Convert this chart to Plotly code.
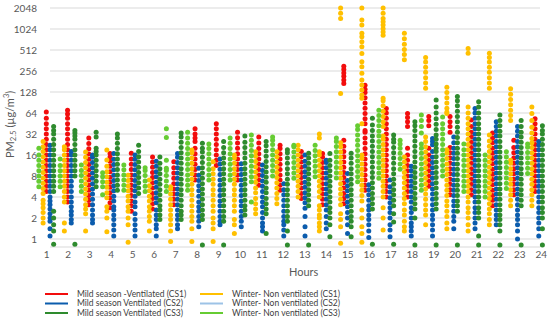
import math
import plotly.graph_objects as go

hours = list(range(1, 25))
hour_labels = [str(h) for h in hours]
y_tick_values = [1, 2, 4, 8, 16, 32, 64, 128, 256, 512, 1024, 2048]

series_names = [
    "Mild season -Ventilated (CS1)",
    "Mild season Ventilated (CS2)",
    "Mild season Ventilated (CS3)",
    "Winter- Non ventilated (CS1)",
    "Winter- Non ventilated (CS2)",
    "Winter- Non ventilated (CS3)",
]

# PM2.5 readings (ug/m3) per hour
mild_cs1 = [
    [4.8, 5.7, 6.7, 8, 9.5, 11.3, 13.5, 16, 19, 22.6, 27, 32, 38, 45, 54, 66],
    [3.4, 4, 4.8, 5.7, 6.7, 8, 9.5, 11.3, 13.5, 16, 19, 22.6, 27, 32, 38, 45, 54, 62, 70],
    [3.1, 3.6, 4.2, 5, 5.9, 7, 8.3, 9.8, 11.7, 13.9, 16.5, 19.6, 23.3, 28],
    [2.8, 3.3, 3.9, 4.6, 5.5, 6.5, 7.7, 9.2, 11, 13, 15, 16.8],
    [2.5, 3, 3.5, 4.2, 5, 5.9, 7, 8.3, 9.9, 11.8, 14, 17],
    [2.7, 3.2, 3.8, 4.5, 5.4, 6.4, 7.6, 9, 10.7, 12.7, 15],
    [3.1, 3.7, 4.4, 5.2, 6.2, 7.4, 8.8, 10.5, 12.8],
    [7, 8.3, 9.9, 11.8, 14, 16.7, 20, 25, 28, 32, 38],
    [11.3, 13.5, 16, 19, 22.6, 27, 32, 38, 45],
    [7, 8.3, 9.9, 11.8, 14, 16.7, 20, 23.8, 28.3, 34],
    [5.9, 7, 8.3, 9.9, 11.8, 14, 16.7, 19.9, 23.7, 29],
    [5, 5.9, 7, 8.3, 9.9, 11.8, 14, 16.7, 19.9, 22],
    [3.8, 4.5, 5.4, 6.4, 7.6, 9, 10.7, 12.7, 15.1, 18],
    [3.1, 3.7, 4.4, 5.2, 6.2, 7.4, 8.8, 10.5, 12.5, 14.8, 16.8],
    [3.2, 3.8, 4.5, 5.4, 6.4, 7.6, 9, 10.7, 12.7, 15.1, 18, 21.4, 26, 170, 190, 215, 240, 270, 300],
    [5, 5.9, 7, 8.3, 9.9, 11.8, 14, 16.7, 19.9, 23.7, 28, 34, 36, 45, 53, 63, 75, 89, 106, 126, 140, 160],
    [4, 4.8, 5.7, 6.7, 8, 9.5, 11.3, 13.5, 16, 19, 22.6, 27, 32, 38, 45, 54, 64, 74],
    [4, 4.8, 5.7, 6.7, 8, 9.5, 11.3, 13.5, 16, 20, 41, 48, 55, 63],
    [5.7, 6.7, 8, 9.5, 11.3, 13.5, 16, 20, 42, 50, 57],
    [4.3, 5.1, 6.1, 7.2, 8.6, 10.2, 12.2, 14.5, 17.2, 20.5, 34, 41, 48, 57],
    [4.3, 5.1, 6.1, 7.2, 8.6, 10.2, 12.2, 14.5, 17.2, 20.5, 24.4, 29, 34, 41, 51],
    [3, 3.6, 4.2, 5, 6, 7.1, 8.5, 10, 12, 14.2, 17, 20, 24, 28, 33],
    [4.3, 5.1, 6.1, 7.2, 8.6, 10.2, 12.2, 14.5, 17.2, 20.5, 26],
    [4.8, 5.7, 6.7, 8, 9.5, 11.3, 13.5, 16, 19, 22.6, 27, 32, 38, 45, 53],
]

mild_cs2 = [
    [1.1, 1.4, 1.8, 2, 2.3, 2.7, 3.1, 3.5, 4, 4.8, 5.7, 6.7, 8, 9.5, 11.3, 13.5, 16, 19, 22],
    [1.7, 1.9, 2.2, 2.5, 2.9, 3.4, 4, 4.8, 5.7, 6.7, 8, 9.5, 11.3, 13.5, 16, 18],
    [1.7, 1.9, 2.2, 2.6, 3.1, 3.7, 4.4, 5.2, 6.2, 7.4, 8.8, 10.5, 12.5, 14.8, 16],
    [1.1, 1.35, 1.6, 1.9, 2.2, 2.6, 2.9, 3.5, 4.1, 4.9, 5.8, 6.9, 8.2, 9.8, 11.7, 13.9, 16.8],
    [1.1, 1.35, 1.6, 1.9, 2.3, 2.9, 3.4, 4.1, 4.9, 5.8, 6.9, 8.2, 9.8, 11.7, 13.9, 16],
    [1.1, 1.4, 1.6, 1.9, 2.2, 2.6, 3.3, 3.9, 4.6, 5.5, 6.5, 7.8, 9.2, 11, 13],
    [1.4, 1.6, 1.9, 2.2, 2.6, 3.1, 3.7, 4.4, 5.2, 6.2, 7.4, 8.8, 10.5, 12.5, 14.8, 16.8],
    [1.5, 1.8, 2.1, 2.5, 2.9, 3.4, 4.1, 4.9, 5.8, 6.9, 8.2, 10.3],
    [1.6, 1.8, 2.1, 2.5, 3, 3.5, 4.2, 5, 5.9, 7, 8.4, 10, 11.9, 14],
    [1.5, 1.8, 2.1, 2.5, 3, 3.5, 4.2, 5, 5.9, 7, 8.4, 10, 12],
    [1.3, 1.5, 1.7, 2, 2.4, 2.9, 3.4, 4, 4.8, 5.7, 6.8, 8.1, 9.6, 11.5],
    [1.1, 1.35, 1.6, 1.8, 2.1, 2.5, 3, 3.6, 4.3, 5.1, 6.2],
    [1.1, 1.5, 2.1, 2.75, 3.3, 3.9, 4.6, 5.5, 6.5, 7.8, 9.2, 11, 13, 16],
    [1.4, 1.7, 2.1, 2.6, 3.1, 3.7, 4.4, 5.2, 6.2, 7.4, 8.8, 10.5, 12.5, 13.5],
    [1.2, 1.6, 2, 2.4, 2.9, 3.4, 4.1, 4.9, 5.8, 6.9, 8.7],
    [1.05, 1.3, 1.6, 1.9, 2.2, 2.6, 3, 3.6, 4.3, 5.1, 6],
    [1.08, 1.35, 1.6, 2, 2.4, 2.8, 3.3, 3.9, 4.7, 5.6, 7],
    [1.1, 1.3, 1.5, 1.7, 2, 2.4, 2.8, 3.4, 4, 4.8, 5.7, 6.7, 8, 9.5, 11],
    [1.1, 1.35, 1.6, 1.9, 2.2, 2.6, 3.1, 3.7, 4.4, 5.2, 6.2, 7.4, 8.8, 10.5, 12.5, 14.8, 18, 22.5, 25, 27.6],
    [1.4, 1.8, 2.1, 2.5, 3, 3.5, 4.2, 5, 5.9, 7, 8.4, 10, 11.9, 14.2, 16.9, 20, 24, 29],
    [1.4, 1.7, 2, 2.4, 2.8, 3.4, 4, 4.8, 5.7, 6.7, 8, 9.5, 11.3, 13.5, 16, 19, 22.6, 27, 32, 38, 45, 54, 64, 74],
    [1.6, 1.9, 2.2, 2.6, 3.1, 3.7, 4.4, 5.2, 6.2, 7.4, 8.8, 10.5, 12.5, 14.8, 17.6, 21, 25, 30, 35, 41, 48],
    [1.0, 1.3, 1.6, 1.9, 2.2, 2.6, 3.1, 3.7, 4.4, 5.2, 6.2, 7.4, 8.8, 10.5, 12.5, 14.8, 17.6, 21, 25, 30, 35, 41],
    [1.1, 1.4, 1.7, 2, 2.4, 2.8, 3.4, 4, 4.8, 5.7, 6.7, 8, 9.5, 11.3, 13.5, 16, 19, 22, 25],
]

mild_cs3 = [
    [0.84, 1.3, 1.6, 2, 2.5, 4.8, 5.7, 6.7, 8, 9.5, 11.3, 13.5, 16, 19, 22.6, 27, 32, 36, 41],
    [0.84, 8, 9.5, 11.3, 13.5, 16, 19, 22.6, 27, 30, 33, 36],
    [5.6, 6.7, 8, 9.5, 11.3, 13.5, 16, 18, 20, 29, 34],
    [5, 5.9, 7, 8.3, 9.9, 11.8, 14, 16.7, 19.8, 23.5, 28, 32],
    [4.5, 5.4, 6.4, 7.6, 9, 10.7, 12.7, 15.1, 18, 22],
    [1.9, 2.2, 2.6, 3, 3.6, 4.3, 5.1, 6.1, 7.2, 8.6, 10.2, 12.2, 15],
    [1.9, 2.2, 2.5, 3, 3.6, 4.3, 5.1, 6.1, 7.2, 8.6, 10.2, 12.2, 14.5, 17.2, 20.5, 24.4, 29, 33],
    [0.82, 1.9, 2.2, 2.6, 3.1, 3.7, 4.4, 5.2, 6.2, 7.4, 8.8, 10.5, 12.5, 14.8, 17.6, 20, 23.5],
    [0.82, 1.8, 2.1, 2.5, 3, 3.6, 4.3, 5.1, 6.1, 7.2, 8.6, 10.2, 12.2, 14.5, 17.2, 20.5, 25],
    [2.2, 2.6, 3, 3.6, 4.3, 5.1, 6.1, 7.2, 8.6, 10.2, 12.2, 14.5, 17.2, 20.5, 24.4, 30],
    [1.2, 2.3, 2.7, 3.2, 3.8, 4.6, 5.4, 6.5, 7.7, 9.1, 10.9, 12.9, 15.4, 18.3, 21.8, 25],
    [0.82, 1.3, 1.8, 2.1, 2.5, 3, 3.6, 4.3, 5.1, 6.1, 7.2, 8.6, 10.2, 12.2, 14.5, 17.2, 19],
    [0.82, 3, 3.6, 4.3, 5.1, 6.1, 7.2, 8.6, 10.2, 12.2, 14.5, 17],
    [1.08, 1.6, 2, 2.4, 2.8, 3.4, 4, 4.8, 5.7, 6.7, 8, 9.5, 11.3, 13.5, 16.8],
    [1.08, 1.5, 1.8, 2.1, 2.5, 3, 3.6, 4.3, 5.1, 6.1, 7.2, 8.6, 10.2, 12.2, 14.5, 17],
    [0.84, 2.7, 3.2, 3.8, 4.5, 5.4, 6.4, 7.6, 9, 10.7, 12.7, 15.1, 18, 21.4, 25.4, 30, 36, 43, 54],
    [0.84, 1.75, 2.3, 3, 3.6, 4.3, 5.1, 6.1, 7.2, 8.6, 10.2, 12.2, 14.5, 17.2, 20.5, 24.4, 27, 31],
    [0.82, 2, 2.7, 3.2, 3.8, 4.5, 5.4, 6.4, 7.6, 9, 10.7, 12.7, 15.1, 18, 21.4, 25.4, 30, 36, 42, 48],
    [0.82, 2.7, 3.2, 3.8, 4.5, 5.4, 6.4, 7.6, 9, 10.7, 12.7, 15.1, 18, 20, 23, 27, 31, 37, 44, 53, 64, 78, 98],
    [0.82, 2.5, 3, 3.5, 4.2, 5, 5.9, 7, 8.4, 10, 11.9, 14.2, 16.9, 20, 24, 28.4, 34, 40, 48, 57, 68, 81, 96, 110],
    [0.82, 1.1, 2, 2.4, 2.8, 3.4, 4, 4.8, 5.7, 6.7, 8, 9.5, 11.3, 13.5, 16, 19, 22.6, 27, 32, 38, 45, 54, 64, 78, 93],
    [0.82, 1.3, 1.6, 1.9, 2.2, 2.6, 3.1, 3.7, 4.4, 5.2, 6.2, 7.4, 8.8, 10.5, 12.5, 14.8, 17.6, 21, 25, 30, 35, 42, 50, 60],
    [0.82, 3, 3.6, 4.3, 5.1, 6.1, 7.2, 8.6, 10.2, 12.2, 14.5, 17.2, 20.5, 24.4, 29, 34, 41, 50],
    [0.82, 1.4, 2, 2.4, 2.8, 3.4, 4, 4.8, 5.7, 6.7, 8, 9.5, 11.3, 13.5, 16, 19, 22.6, 27, 32, 36, 42],
]

winter_cs1 = [
    [1.7, 2, 2.4, 2.8, 3.2, 3.6, 4.5, 5.3, 6.3, 7.5, 9, 10.7, 12.7, 15.1, 18, 21, 25],
    [1.3, 1.7, 3.4, 4, 4.8, 5.7, 6.7, 8, 9.5, 11.3, 13.5, 16, 19, 21],
    [1.3, 2.3, 2.7, 3.1, 3.7, 4.4, 5.2, 6.2, 7.4, 8.8, 10.5, 12.5, 14.8, 17.7],
    [1.27, 2.0, 2.5, 2.9, 3.9, 4.6, 5.5, 6.5, 7.8, 9.2, 11, 13.6, 18.8],
    [0.9, 1.6, 2, 2.5, 2.9, 3.5, 4.1, 4.9, 5.8, 6.9, 8.2],
    [1.3, 1.8, 2.1, 2.5, 2.9, 3.5, 4.1, 4.9, 5.8, 7],
    [0.92, 1.3, 1.6, 1.9, 2.2, 2.6, 3.1, 3.7, 4.4, 5.2, 5.6],
    [0.92, 1.4, 1.8, 2.1, 2.5, 3, 3.6, 4.3, 5.1, 6.1, 7.2, 8.6, 10.2, 12.2, 14.5, 17.2, 18.8],
    [0.92, 1.4, 1.7, 2, 2.5, 3, 3.6, 4.3, 5.1, 6.1, 7.2, 8.6, 10.2, 12.8],
    [1.2, 1.6, 1.9, 2.5, 3, 3.6, 4.3, 5.1, 6.1, 7.2, 8.6, 10.2, 12.2, 14.5, 16],
    [2.3, 2.7, 3.2, 3.8, 4.6, 5.4, 6.5, 7.7, 9.1, 10.9, 12.9, 15.4, 17.8],
    [3.2, 3.8, 4.5, 5.4, 6.4, 7.6, 9, 10.7, 12.7, 15.1, 17.8],
    [4, 4.8, 5.7, 6.7, 8, 9.5, 11.3, 13.5, 16, 19, 22],
    [1.3, 1.5, 1.7, 2, 2.2, 2.6, 3, 4, 4.8, 5.7, 6.7, 8, 9.5, 11.3, 13.5, 16, 17.8, 28, 32],
    [0.87, 1.5, 1.9, 2.3, 3.1, 3.7, 4.4, 5.2, 6.2, 7.4, 8.8, 10.5, 12.5, 14.8, 17.6, 21, 24, 122, 1450, 1720, 2048],
    [0.9, 1.2, 1.5, 2, 2.6, 3.5, 4.2, 5, 5.9, 7, 8.4, 10, 11.9, 14.2, 16, 45, 104, 116, 137, 161, 190, 237,
     295, 348, 458, 570, 675, 795, 890, 1170, 1380, 2048],
    [1.35, 2, 2.8, 4, 4.8, 5.7, 6.7, 8, 9.5, 11.3, 13.5, 16, 19, 22.6, 27, 30, 41, 48, 57, 68, 81, 96, 104,
     830, 930, 1030, 1170, 1300, 1450, 1720, 2048],
    [1.3, 1.5, 1.8, 2.2, 2.6, 3.2, 3.8, 4.5, 5.4, 6.4, 7.6, 9, 10.7, 12.7, 15, 370, 440, 520, 620, 740, 890],
    [1.6, 2.2, 2.6, 3.1, 3.7, 4.4, 5.2, 6.2, 7.4, 8.8, 10.5, 12.5, 14.8, 17.6, 21, 25, 29,
     145, 172, 205, 245, 290, 345, 400],
    [1.4, 1.7, 2.1, 2.5, 3, 3.5, 4.2, 5, 5.9, 7, 8.4, 10, 11.9, 14.2, 16.9, 19, 63, 66, 75, 89, 106, 126, 150],
    [1.3, 1.6, 2, 2.4, 2.8, 3.4, 4, 4.8, 5.7, 6.7, 8, 9.5, 11.3, 13.5, 16, 19, 22.6, 27, 32, 38, 45, 54, 64,
     78, 460, 540],
    [1.6, 1.9, 2.3, 2.7, 3.2, 3.8, 4.5, 5.4, 6.4, 7.6, 9, 10.7, 12.7, 15.1, 18, 21.4, 25.4, 31,
     145, 172, 205, 245, 290, 345, 400, 460],
    [3, 3.6, 4.3, 5.1, 6.1, 7.2, 8.6, 10.2, 12.2, 13.5, 50, 59, 70, 84, 100, 119, 143],
    [3, 3.6, 4.3, 5.1, 6.1, 7.2, 8.6, 10.2, 12.2, 14.5, 17.2, 20.5, 24, 27.6, 33, 40, 50, 63, 78],
]

winter_cs2 = [[] for _ in hours]  # no points visible for this series

winter_cs3 = [
    [5.6, 6.7, 8, 9.5, 11.3, 13.5, 16, 20],
    [5.6, 6.7, 8, 9.5, 11.3, 14],
    [4.8, 5.7, 6.8, 8.1, 9.6, 11.5],
    [4.3, 5.6, 6.6, 7.8, 8.9],
    [5, 5.9, 7, 8.3, 9.8, 11.5],
    [4.8, 5.7, 6.8, 8.1, 9.6, 10.5],
    [4.8, 5.7, 6.8, 8.1, 9.6, 10.3, 13.5, 28.5, 38],
    [5, 5.9, 7, 8.3, 9.9, 11.8, 14, 16.7, 19.8, 23.5, 28, 34],
    [7, 8.3, 9.9, 11.8, 14, 16.7, 19.9, 23],
    [7, 8.3, 9.9, 11.8, 14, 16.7, 19.8, 23.5, 28],
    [3.4, 6.6, 7.8, 9.3, 11, 13.1, 15.6, 18.5, 22, 26, 31],
    [8, 9.5, 11.3, 13.5, 16, 19, 22.6, 26, 29],
    [7.4, 8.8, 10.5, 12.5, 14.8, 17.6, 21, 22],
    [7.8, 9.3, 11, 13.1, 15.6, 18.5, 22],
    [7.5, 8.9, 10.6, 12.6, 15, 17.8, 21.2, 25, 28],
    [6.6, 7.8, 9.3, 11, 13.1, 15.6, 18.5, 22, 26, 31, 37, 42],
    [7.4, 8.8, 10.5, 12.5, 14.8, 17.6, 21, 25, 30, 35, 42, 50, 59, 70],
    [10, 11.9, 14.2, 16.9, 20, 23, 26],
    [5, 5.9, 7, 8.4, 10, 11.9, 14.2, 16.9, 20, 23, 33, 41, 50, 60],
    [8, 9.5, 11.3, 13.5, 16, 19, 22.6, 27, 32, 38, 45, 56],
    [4.8, 5.7, 6.7, 8, 9.5, 11.3, 13.5, 16, 19, 23],
    [4, 4.8, 5.7, 6.7, 8, 9.5, 11.3, 13.5, 16],
    [5.3, 6.3, 7.5, 8.9, 10.6, 12.6, 15, 17.8],
    [8.7, 10.3, 12.3, 14.6, 17.4, 20.7, 23],
]

series_data = [mild_cs1, mild_cs2, mild_cs3, winter_cs1, winter_cs2, winter_cs3]
series_colors = ["#F20D0D", "#0B5CAD", "#2E8B2E", "#FFC000", "#9DC3E6", "#66CC33"]
# horizontal offset of each series inside an hour group (hours)
series_offsets = [0.0, 0.175, 0.345, -0.15, 0.1, -0.35]

# ---- layout geometry ----
W, H = 550, 323
ML, MR, MT, MB = 38, 4, 2, 76
plot_w = W - ML - MR
plot_h = H - MT - MB
x_range = [0.609, 24.515]
y_range = [-0.1147, 3.3974]

fig = go.Figure()
for i in range(len(series_data)):
    xs, ys = [], []
    for h, vals in zip(hours, series_data[i]):
        xs.extend([h + series_offsets[i]] * len(vals))
        ys.extend(vals)
    fig.add_trace(go.Scatter(
        x=xs, y=ys, mode="markers", name=series_names[i],
        marker=dict(size=5, color=series_colors[i], line=dict(width=0)),
        cliponaxis=False, showlegend=False, hoverinfo="skip",
    ))

# tick label positions (labels are spaced slightly wider than the data groups)
label_pos = [1 + (0.4 + 21.5 * (h - 1)) / 21.25 for h in hours]

tick_font = dict(family="Lato, Open Sans, sans-serif", size=10, color="#595959")


def px_to_paper_x(px):
    return (px - ML) / plot_w


def py_to_paper_y(py):
    return (H - MB - py) / plot_h


shapes = []
gx0, gx1 = px_to_paper_x(50), px_to_paper_x(540)
for v in y_tick_values:
    yp = (math.log10(v) - y_range[0]) / (y_range[1] - y_range[0])
    shapes.append(dict(type="line", xref="paper", yref="paper", x0=gx0, x1=gx1, y0=yp, y1=yp,
                       line=dict(color="#D9D9D9", width=1), layer="below"))
shapes.append(dict(type="line", xref="paper", yref="paper", x0=gx0, x1=gx1, y0=0, y1=0,
                   line=dict(color="#D9D9D9", width=1), layer="below"))

annotations = [
    dict(text="Hours", xref="paper", yref="paper", x=px_to_paper_x(303.7), y=py_to_paper_y(271),
         showarrow=False, xanchor="center", yanchor="middle",
         font=dict(family="Lato, Open Sans, sans-serif", size=11, color="#595959")),
    dict(text="PM<sub>2.5</sub> (µg/m<sup>3</sup>)", xref="paper", yref="paper",
         x=px_to_paper_x(9), y=py_to_paper_y(125), textangle=-90, showarrow=False,
         xanchor="center", yanchor="middle",
         font=dict(family="Lato, Open Sans, sans-serif", size=11, color="#595959")),
]

# manual two-column legend
legend_cols = [(45, 68, 75), (200, 223, 230)]
legend_rows = [294, 303.5, 313]
legend_order = [[0, 1, 2], [3, 4, 5]]
for c, (lx0, lx1, tx) in enumerate(legend_cols):
    for r, py in enumerate(legend_rows):
        i = legend_order[c][r]
        yp = py_to_paper_y(py)
        shapes.append(dict(type="line", xref="paper", yref="paper",
                           x0=px_to_paper_x(lx0), x1=px_to_paper_x(lx1), y0=yp, y1=yp,
                           line=dict(color=series_colors[i], width=2)))
        annotations.append(dict(text=series_names[i], xref="paper", yref="paper",
                                x=px_to_paper_x(tx), y=yp, xanchor="left", yanchor="middle",
                                showarrow=False,
                                font=dict(family="Lato, Open Sans, sans-serif", size=8.5, color="#404040")))

fig.update_layout(
    width=W, height=H,
    margin=dict(l=ML, r=MR, t=MT, b=MB),
    paper_bgcolor="white", plot_bgcolor="white",
    showlegend=False,
    shapes=shapes,
    annotations=annotations,
    xaxis=dict(range=x_range, tickmode="array", tickvals=label_pos, ticktext=hour_labels,
               showgrid=False, zeroline=False, showline=False, ticks="", tickfont=tick_font),
    yaxis=dict(type="log", range=y_range, tickmode="array", tickvals=y_tick_values,
               ticktext=[str(v) for v in y_tick_values], showgrid=False, zeroline=False,
               showline=False, ticks="", tickfont=tick_font),
)

fig.write_html(
    "out.html",
    config={"displayModeBar": False, "staticPlot": True},
    post_script="document.body.style.margin='0px';document.body.style.overflow='hidden';",
)
